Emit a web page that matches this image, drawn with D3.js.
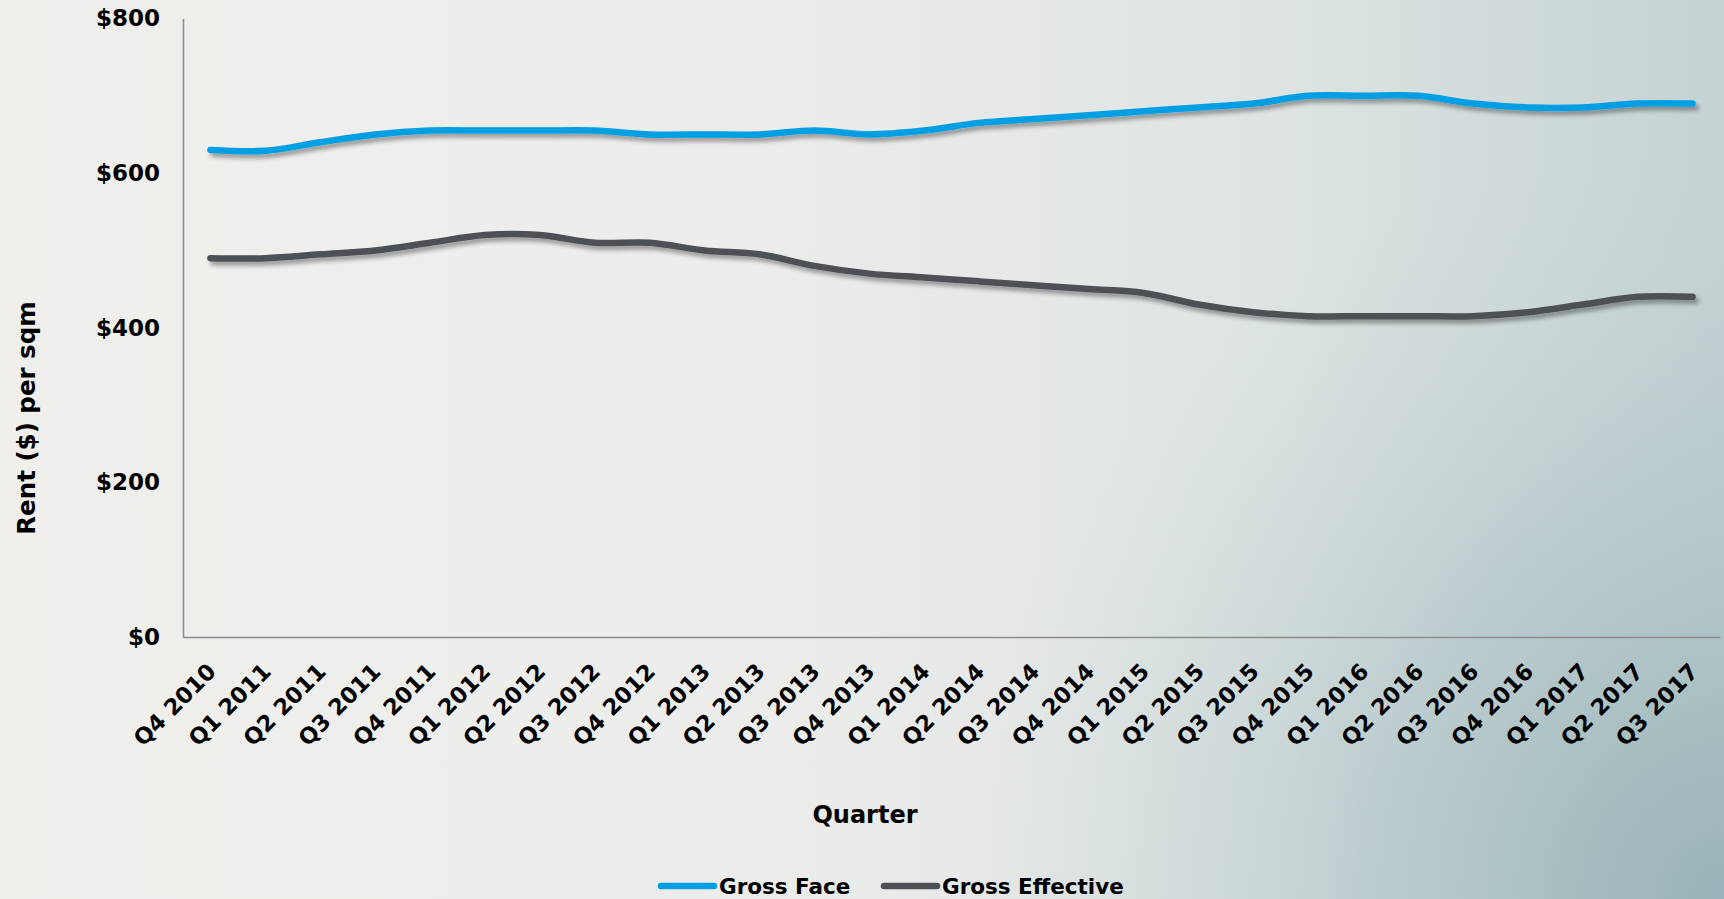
<!DOCTYPE html>
<html>
<head>
<meta charset="utf-8">
<script src="https://cdn.jsdelivr.net/npm/d3@7"></script>
<style>
  html, body { margin: 0; padding: 0; }
  body { width: 1724px; height: 899px; overflow: hidden; }
  text { font-family: "DejaVu Sans", "Liberation Sans", sans-serif; font-weight: bold; fill: #000; }
</style>
</head>
<body>
<svg id="chart" width="1724" height="899"></svg>
<script>
// Quarterly rent series, $ per sqm
const quarters = [
  "Q4 2010",
  "Q1 2011", "Q2 2011", "Q3 2011", "Q4 2011",
  "Q1 2012", "Q2 2012", "Q3 2012", "Q4 2012",
  "Q1 2013", "Q2 2013", "Q3 2013", "Q4 2013",
  "Q1 2014", "Q2 2014", "Q3 2014", "Q4 2014",
  "Q1 2015", "Q2 2015", "Q3 2015", "Q4 2015",
  "Q1 2016", "Q2 2016", "Q3 2016", "Q4 2016",
  "Q1 2017", "Q2 2017", "Q3 2017"
];
const grossFace = [
  630,
  629, 640, 650, 655,
  655, 655, 655, 650,
  650, 650, 655, 650,
  655, 665, 670, 675,
  680, 685, 690, 700,
  700, 700, 690, 685,
  685, 690, 690
];
const grossEffective = [
  490,
  490, 495, 500, 510,
  520, 520, 510, 510,
  500, 495, 480, 470,
  465, 460, 455, 450,
  445, 430, 420, 415,
  415, 415, 415, 420,
  430, 440, 440
];
const yTicks = [0, 200, 400, 600, 800];
const seriesNames = ["Gross Face", "Gross Effective"];
const seriesColors = ["#009fe3", "#4d5155"];

const svg = d3.select("#chart");
const W = 1724, H = 899;
const plot = { left: 183, right: 1720, top: 18.5, bottom: 637 };

// Background wash: horizontal grey-to-teal with a deeper corner at bottom right
const defs = svg.append("defs");
const grad = defs.append("linearGradient")
  .attr("id", "bg").attr("x1", "0").attr("y1", "0").attr("x2", "1").attr("y2", "0");
[[0, "#f0efec"], [0.45, "#ecedeb"], [0.75, "#dde3e3"], [1, "#c4d2d3"]]
  .forEach(([o, c]) => grad.append("stop").attr("offset", o).attr("stop-color", c));
const corner = defs.append("radialGradient")
  .attr("id", "corner").attr("gradientUnits", "userSpaceOnUse")
  .attr("cx", W).attr("cy", H).attr("r", 760);
[[0, "#97b3b7", 1], [0.45, "#a8bfc2", 0.6], [1, "#c4d2d3", 0]]
  .forEach(([o, c, a]) => corner.append("stop").attr("offset", o)
    .attr("stop-color", c).attr("stop-opacity", a));
svg.append("rect").attr("width", W).attr("height", H).attr("fill", "url(#bg)");
svg.append("rect").attr("width", W).attr("height", H).attr("fill", "url(#corner)");

const shadow = defs.append("filter").attr("id", "shadow")
  .attr("x", "-5%").attr("y", "-50%").attr("width", "110%").attr("height", "200%");
shadow.append("feDropShadow")
  .attr("dx", 3).attr("dy", 4).attr("stdDeviation", 2.2)
  .attr("flood-color", "#000").attr("flood-opacity", 0.35);

// Scales
const x = d3.scaleBand().domain(quarters).range([plot.left, plot.right]);
const y = d3.scaleLinear().domain([0, 800]).range([plot.bottom, plot.top]);
const cx = q => x(q) + x.bandwidth() / 2;

// Axes
const yAxis = d3.axisLeft(y).tickValues(yTicks).tickSize(0).tickPadding(23)
  .tickFormat(d => "$" + d);
const gy = svg.append("g").attr("transform", `translate(${plot.left},0)`).call(yAxis);
gy.select(".domain").attr("stroke", "#8c8c8c").attr("stroke-width", 1.6);
gy.selectAll("text").attr("font-size", 23).attr("fill", "#000")
  .attr("font-family", "DejaVu Sans").attr("font-weight", "bold");

const xAxis = d3.axisBottom(x).tickSize(0).tickPadding(0);
const gx = svg.append("g").attr("transform", `translate(0,${plot.bottom})`).call(xAxis);
gx.select(".domain").attr("stroke", "#8c8c8c").attr("stroke-width", 1.6);
gx.selectAll(".tick text")
  .attr("font-size", 22.5).attr("fill", "#000")
  .attr("font-family", "DejaVu Sans").attr("font-weight", "bold")
  .attr("text-anchor", "end")
  .attr("dy", 0)
  .attr("transform", "translate(7,36) rotate(-45)")
  .attr("y", 0).attr("x", 0);

// Axis titles
svg.append("text").attr("x", 865).attr("y", 823)
  .attr("text-anchor", "middle").attr("font-size", 24).text("Quarter");
svg.append("text")
  .attr("transform", "translate(35,418) rotate(-90)")
  .attr("text-anchor", "middle").attr("font-size", 24.5).text("Rent ($) per sqm");

// Lines
const line = d3.line()
  .x((d, i) => cx(quarters[i]))
  .y(d => y(d))
  .curve(d3.curveCatmullRom.alpha(0));

[grossFace, grossEffective].forEach((vals, k) => {
  svg.append("path").datum(vals)
    .attr("d", line)
    .attr("fill", "none")
    .attr("stroke", seriesColors[k])
    .attr("stroke-width", 6.5)
    .attr("stroke-linecap", "round")
    .attr("stroke-linejoin", "round")
    .attr("filter", "url(#shadow)");
});

// Legend
const legendItems = [
  { x0: 661, x1: 714, tx: 719 },
  { x0: 884, x1: 937, tx: 942 }
];
const legendY = 886;
legendItems.forEach((it, k) => {
  svg.append("line")
    .attr("x1", it.x0).attr("x2", it.x1).attr("y1", legendY).attr("y2", legendY)
    .attr("stroke", seriesColors[k]).attr("stroke-width", 6.5).attr("stroke-linecap", "round");
  svg.append("text").attr("x", it.tx).attr("y", legendY + 8)
    .attr("font-size", 21.5).text(seriesNames[k]);
});
</script>
</body>
</html>
